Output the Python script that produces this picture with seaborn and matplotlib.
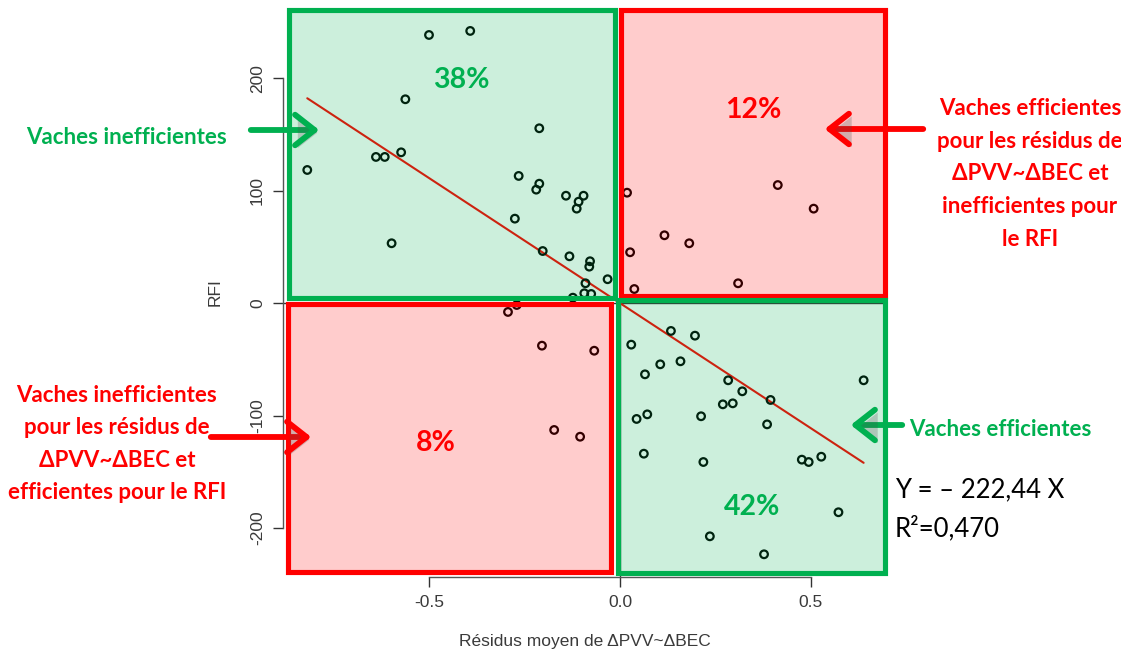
import matplotlib
matplotlib.use("Agg")
import matplotlib.pyplot as plt
import matplotlib.patheffects as pe
from matplotlib.patches import Rectangle, FancyArrowPatch
import seaborn as sns
import pandas as pd
import numpy as np

# ---------------- data ----------------
res_x = [-0.501, -0.393, -0.563, -0.212, -0.820, -0.640, -0.617, -0.574, -0.266, -0.212,
         -0.220, -0.142, -0.096, -0.109, -0.114, -0.276, -0.599, -0.203, -0.133, -0.079,
         -0.081, -0.033, -0.091, -0.094, -0.076, -0.124,
         0.018, 0.413, 0.507, 0.116, 0.181, 0.026, 0.309, 0.037,
         -0.294, -0.271, -0.205, -0.068, -0.173, -0.105,
         0.029, 0.133, 0.196, 0.105, 0.158, 0.065, 0.283, 0.320, 0.394, 0.269,
         0.295, 0.638, 0.043, 0.071, 0.212, 0.385, 0.062, 0.218, 0.476, 0.494,
         0.527, 0.572, 0.235, 0.377]
rfi_y = [238.7, 242.3, 181.5, 155.7, 118.6, 130.2, 130.2, 134.3, 113.3, 106.4,
         101.1, 95.7, 95.7, 90.4, 84.2, 75.3, 53.4, 46.5, 41.8, 37.4,
         32.6, 21.4, 17.8, 8.9, 8.3, 5.0,
         98.4, 105.2, 84.2, 60.5, 53.4, 45.4, 17.8, 12.7,
         -7.7, -1.5, -37.7, -42.2, -112.7, -118.7,
         -36.8, -24.6, -28.8, -54.3, -51.6, -63.2, -68.5, -78.3, -86.0, -89.9,
         -89.0, -68.5, -102.9, -98.8, -100.5, -107.7, -133.8, -141.2, -139.1, -141.2,
         -136.5, -185.9, -207.3, -223.3]
slope = -222.44
x_ticks = [-0.5, 0.0, 0.5]
x_tick_labels = ["-0.5", "0.0", "0.5"]
y_ticks = [-200, -100, 0, 100, 200]
y_tick_labels = ["-200", "-100", "0", "100", "200"]
quad_labels = ["38%", "12%", "8%", "42%"]
x_title = "Résidus moyen de ΔPVV~ΔBEC"
y_title = "RFI"
eq_lines = ["Y = – 222,44 X", "R²=0,470"]
txt_ineff = "Vaches inefficientes"
txt_eff = "Vaches efficientes"
txt_right = "Vaches efficientes\npour les résidus de\nΔPVV~ΔBEC et\ninefficientes pour\nle RFI"
txt_left = "Vaches inefficientes\npour les résidus de\nΔPVV~ΔBEC et\nefficientes pour le RFI"

df = pd.DataFrame({"x": res_x, "y": rfi_y})
xr = np.array([min(res_x), max(res_x)])
fit = pd.DataFrame({"x": xr, "y": slope * xr})

# ---------------- figure ----------------
W, H = 1121, 652
sns.set_theme(style="white")
plt.rcParams["font.family"] = ["Liberation Sans", "DejaVu Sans"]
fig = plt.figure(figsize=(W / 100, H / 100), dpi=100, facecolor="white")
ax = fig.add_axes([283 / W, 1 - 577 / H, 603 / W, 569 / H])
ax.set_facecolor("white")

GREEN = "#00B050"
RED = "#FF0000"
CAL = ["Lato", "Open Sans", "DejaVu Sans"]

ax.axhline(0, color="#333333", lw=1.0, zorder=1)
ax.axvline(0, color="#333333", lw=1.0, zorder=1)
sns.lineplot(data=fit, x="x", y="y", ax=ax, color="red", lw=1.5, zorder=2)
sns.scatterplot(data=df, x="x", y="y", ax=ax, marker="o", s=30,
                facecolors="none", edgecolor="black", linewidth=1.6, zorder=3)

ax.set_xlim(-0.8836, 0.6966)
ax.set_ylim(-243.5, 262.7)
for s in ["top", "right"]:
    ax.spines[s].set_visible(False)
for s in ["left", "bottom"]:
    ax.spines[s].set_color("#555555")
    ax.spines[s].set_linewidth(1.0)
ax.spines["left"].set_bounds(-200, 200)
ax.spines["bottom"].set_bounds(-0.5, 0.5)
ax.set_xticks(x_ticks)
ax.set_xticklabels(x_tick_labels)
ax.set_yticks(y_ticks)
ax.set_yticklabels(y_tick_labels, rotation=90, va="center")
ax.tick_params(axis="both", direction="out", length=7, width=1.0, color="#333333",
               labelsize=12.5, labelcolor="#3a3a3a", pad=6, left=True, bottom=True)
ax.set_xlabel(x_title, fontsize=12.5, color="#3a3a3a", labelpad=17)
ax.set_ylabel(y_title, fontsize=12.5, color="#3a3a3a", labelpad=20)
ax.grid(False)

def fx(px):
    return px / W

def fy(py):
    return 1 - py / H

# quadrant boxes (pixel centres of the strokes)
boxes = [((288.5, 9.5, 614.5, 297.5), GREEN),
         ((620.5, 9.5, 884.5, 295.5), RED),
         ((288.0, 303.5, 610.5, 572.0), RED),
         ((617.5, 300.5, 884.5, 573.0), GREEN)]
for (x0, y0, x1, y1), c in boxes:
    ax.add_patch(Rectangle((fx(x0), fy(y1)), fx(x1) - fx(x0), fy(y0) - fy(y1),
                           transform=fig.transFigure, facecolor=c, alpha=0.2,
                           edgecolor="none", zorder=5, clip_on=False))
for (x0, y0, x1, y1), c in boxes:
    ax.add_patch(Rectangle((fx(x0), fy(y1)), fx(x1) - fx(x0), fy(y0) - fy(y1),
                           transform=fig.transFigure, facecolor="none",
                           edgecolor=c, lw=3.7, joinstyle="miter", zorder=6, clip_on=False))

# percentages
pct_pos = [(461, 80, GREEN), (753, 110, RED), (436, 443, RED), (752, 507, GREEN)]
for lab, (px, py, c) in zip(quad_labels, pct_pos):
    fig.text(fx(px), fy(py), lab, color=c, fontsize=20.5, fontweight="bold",
             family=CAL, ha="center", va="center", zorder=7)

# side texts
fig.text(fx(126), fy(137), txt_ineff, color=GREEN, fontsize=16, fontweight="bold",
         family=CAL, ha="center", va="center")
fig.text(fx(1000), fy(429), txt_eff, color=GREEN, fontsize=16, fontweight="bold",
         family=CAL, ha="center", va="center")
fig.text(fx(1030), fy(174), txt_right, color=RED, fontsize=16, fontweight="bold",
         family=CAL, ha="center", va="center", linespacing=1.7, multialignment="center")
fig.text(fx(117), fy(444), txt_left, color=RED, fontsize=16, fontweight="bold",
         family=CAL, ha="center", va="center", linespacing=1.67, multialignment="center")

fig.text(fx(895), fy(490), eq_lines[0], color="black", fontsize=18.5, family=CAL,
         ha="left", va="center")
fig.text(fx(895), fy(528), eq_lines[1], color="black", fontsize=18.5, family=CAL,
         ha="left", va="center")

# arrows
arrows = [((248, 130), (322, 130), GREEN),
          ((926, 129), (822, 129), RED),
          ((208, 437), (314, 437), RED),
          ((905, 425), (848, 425), GREEN)]
for (xa, ya), (xb, yb), c in arrows:
    arr = FancyArrowPatch((fx(xa), fy(ya)), (fx(xb), fy(yb)), transform=fig.transFigure,
                          arrowstyle="->,head_length=0.7,head_width=0.55",
                          mutation_scale=20, color=c, lw=4.2, capstyle="round",
                          joinstyle="round", zorder=8)
    arr.set_path_effects([pe.SimplePatchShadow(offset=(2, -2), alpha=0.25), pe.Normal()])
    fig.add_artist(arr)

fig.savefig("out.png", dpi=100, facecolor="white")
